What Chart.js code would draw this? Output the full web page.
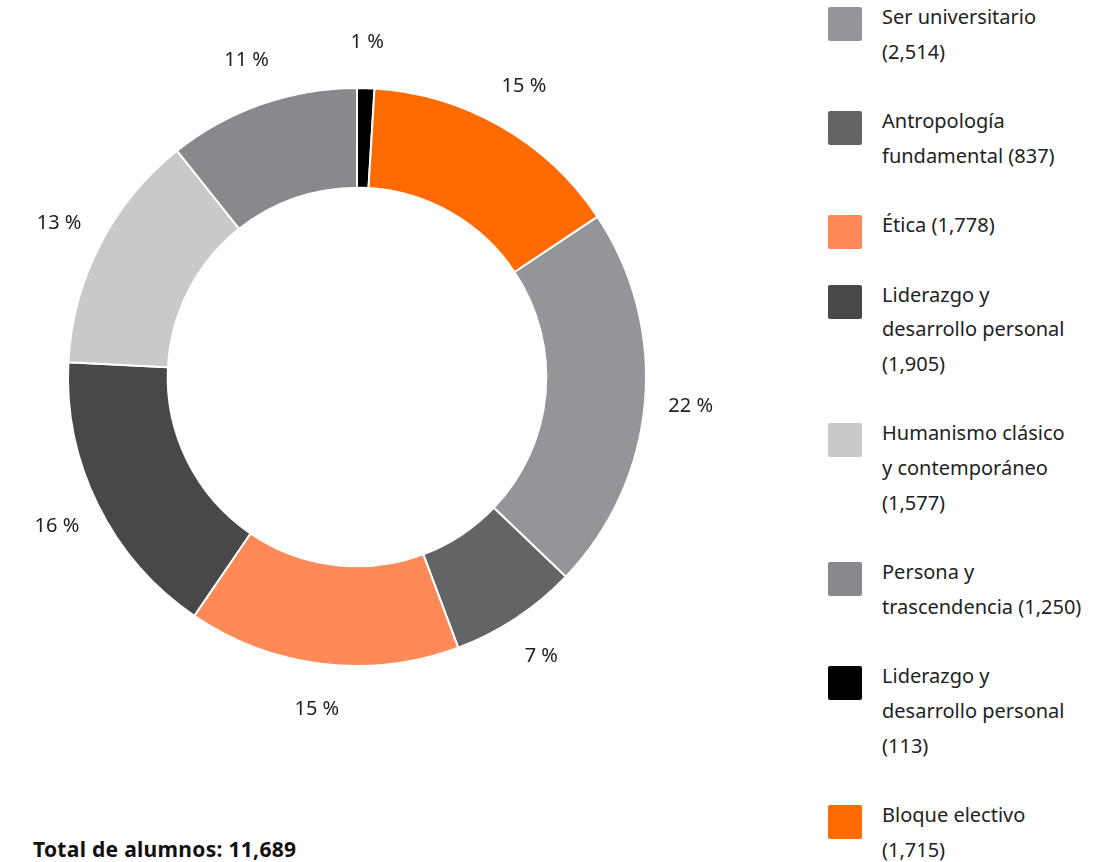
<!DOCTYPE html>
<html>
<head>
<meta charset="utf-8">
<script src="https://cdn.jsdelivr.net/npm/chart.js@4.4.1/dist/chart.umd.min.js"></script>
<style>
  html, body { margin: 0; padding: 0; background: #fff; }
  body { width: 1111px; height: 862px; position: relative; overflow: hidden;
         font-family: "Noto Sans", "Open Sans", sans-serif; color: #222; }
  #chart-wrap { position: absolute; left: 0; top: 0; width: 714px; height: 754px; }
  #legend { position: absolute; left: 828px; top: 0; width: 283px; font-size: 20px; line-height: 34.7px; }
  .item { position: relative; padding-left: 54px; margin-bottom: 34.7px; white-space: pre-line; }
  .swatch { position: absolute; left: 0; top: 7px; width: 34px; height: 34px; border-radius: 2px; }
  #total { position: absolute; left: 33px; top: 835px; font-size: 21px; font-weight: bold; color: #111; letter-spacing: 0.3px; }
</style>
</head>
<body>
<div id="chart-wrap"><canvas id="donut"></canvas></div>
<div id="legend"></div>
<div id="total"></div>
<script>
// Alumnos por bloque ('\n' = where the legend text breaks)
const categories = [
    'Ser universitario',
    'Antropología\nfundamental',
    'Ética',
    'Liderazgo y\ndesarrollo personal',
    'Humanismo clásico\ny contemporáneo',
    'Persona y\ntrascendencia',
    'Liderazgo y\ndesarrollo personal',
    'Bloque electivo'
];
const students = [2514, 837, 1778, 1905, 1577, 1250, 113, 1715];
// does the (count) go on its own line in the legend?
const countOnNewLine = [true, false, false, true, true, false, true, true];
const colors = ['#949599', '#636466', '#ff8a58', '#48484a', '#c8c9cb', '#88898d', '#000000', '#ff6b00'];

const total = students.reduce((acc, v) => acc + v, 0);
const fmt = (n) => n.toLocaleString('en-US');

// Build the legend by hand so labels can wrap like the original
const legend = document.getElementById('legend');
categories.forEach((name, i) => {
    const item = document.createElement('div');
    item.className = 'item';
    const sw = document.createElement('span');
    sw.className = 'swatch';
    sw.style.background = colors[i];
    item.appendChild(sw);
    const sep = countOnNewLine[i] ? '\n' : ' ';
    item.appendChild(document.createTextNode(name + sep + '(' + fmt(students[i]) + ')'));
    legend.appendChild(item);
});
document.getElementById('total').textContent = 'Total de alumnos: ' + fmt(total);

// Percentage labels outside each slice
const outsideLabels = {
    id: 'outsideLabels',
    afterDatasetsDraw(chart) {
        const ctx = chart.ctx;
        const meta = chart.getDatasetMeta(0);
        ctx.save();
        ctx.font = '20px "Noto Sans", "Open Sans", sans-serif';
        ctx.fillStyle = '#222';
        ctx.textAlign = 'center';
        ctx.textBaseline = 'middle';
        meta.data.forEach((arc, i) => {
            const p = arc.getProps(['startAngle', 'endAngle', 'x', 'y', 'outerRadius'], true);
            const mid = (p.startAngle + p.endAngle) / 2;
            const r = p.outerRadius + 46;
            const pct = Math.round(students[i] / total * 100) + ' %';
            ctx.fillText(pct, p.x + Math.cos(mid) * r, p.y + Math.sin(mid) * r);
        });
        ctx.restore();
    }
};

new Chart(document.getElementById('donut'), {
    type: 'doughnut',
    data: {
        labels: categories,
        datasets: [{
            data: students,
            backgroundColor: colors,
            borderColor: '#ffffff',
            borderWidth: 2
        }]
    },
    options: {
        responsive: true,
        maintainAspectRatio: false,
        animation: false,
        rotation: 56.3,
        cutout: '65.5%',
        layout: { padding: { left: 67, right: 67, top: 87, bottom: 87 } },
        plugins: {
            legend: { display: false },
            tooltip: { enabled: false }
        }
    },
    plugins: [outsideLabels]
});
</script>
</body>
</html>
